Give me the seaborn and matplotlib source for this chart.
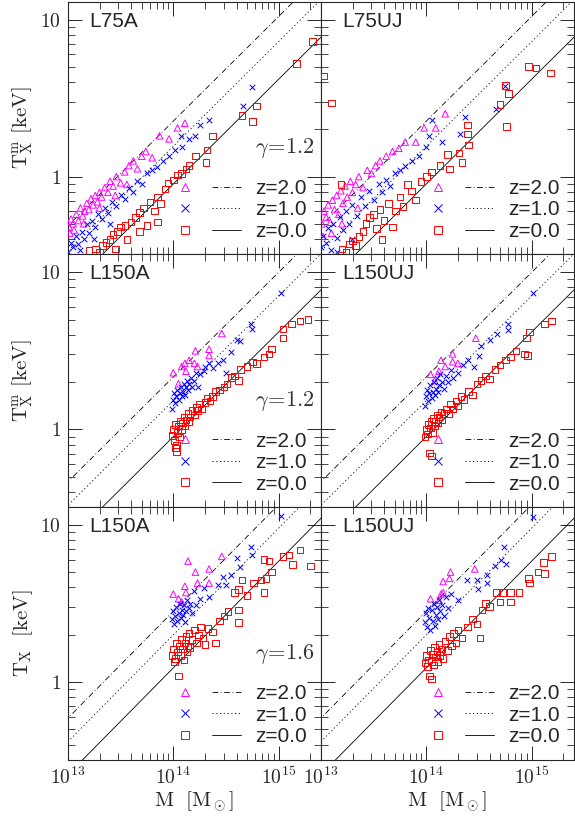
import numpy as np
import pandas as pd
import seaborn as sns
import matplotlib
matplotlib.use("Agg")
import matplotlib.pyplot as plt
from matplotlib.lines import Line2D
from matplotlib.legend_handler import HandlerTuple
from matplotlib.ticker import FuncFormatter, NullFormatter

sns.set_theme(style="ticks")
plt.rcParams['font.family'] = ['Liberation Sans', 'DejaVu Sans']
plt.rcParams['mathtext.fontset'] = 'cm'

# ---- data: (log10 M, log10 T) pairs ----
L75A_z2 = [(13.01,-0.32),(13.03,-0.27),(13.05,-0.30),(13.08,-0.24),(13.10,-0.28),(13.12,-0.20),(13.14,-0.25),(13.16,-0.22),(13.18,-0.17),(13.20,-0.21),(13.22,-0.14),(13.24,-0.18),(13.26,-0.12),(13.28,-0.16),(13.30,-0.10),(13.32,-0.13),(13.35,-0.07),(13.38,-0.10),(13.40,-0.03),(13.43,-0.06),(13.46,0.00),(13.50,-0.04),(13.54,0.03),(13.58,0.07),(13.62,0.10),(13.66,0.05),(13.70,0.13),(13.74,0.16),(13.80,0.12),(13.87,0.26),(13.96,0.24),(14.04,0.31),(14.11,0.34),(13.02,-0.36),(13.06,-0.34),(13.15,-0.30),(13.30,-0.20),(13.45,-0.12),(13.56,-0.05)]
L75A_z1 = [(13.00,-0.48),(13.03,-0.42),(13.05,-0.45),(13.08,-0.38),(13.10,-0.43),(13.13,-0.35),(13.15,-0.40),(13.18,-0.30),(13.20,-0.36),(13.23,-0.28),(13.26,-0.32),(13.29,-0.24),(13.32,-0.27),(13.35,-0.20),(13.38,-0.23),(13.42,-0.16),(13.46,-0.19),(13.50,-0.12),(13.54,-0.14),(13.58,-0.07),(13.62,-0.10),(13.66,-0.03),(13.70,-0.05),(13.75,0.02),(13.80,0.04),(13.85,0.06),(13.90,0.10),(13.96,0.13),(14.02,0.17),(14.08,0.19),(14.07,0.26),(14.15,0.24),(14.21,0.26),(14.25,0.33),(14.34,0.36),(14.66,0.45),(14.75,0.57),(13.12,-0.47),(13.25,-0.40),(13.40,-0.30)]
L75A_z0 = [(13.26,-0.46),(13.30,-0.48),(13.33,-0.44),(13.36,-0.42),(13.40,-0.40),(13.43,-0.37),(13.47,-0.35),(13.50,-0.32),(13.54,-0.31),(13.56,-0.40),(13.60,-0.29),(13.64,-0.26),(13.68,-0.23),(13.68,-0.35),(13.72,-0.20),(13.75,-0.31),(13.78,-0.16),(13.82,-0.22),(13.85,-0.13),(13.88,-0.17),(13.85,-0.29),(13.92,-0.08),(13.95,-0.04),(14.00,-0.02),(14.04,0.01),(14.08,0.02),(14.12,0.05),(14.15,0.07),(14.21,0.13),(14.31,0.09),(14.32,0.17),(14.37,0.26),(14.65,0.39),(14.75,0.35),(14.79,0.45),(15.17,0.72),(15.32,0.86),(13.20,-0.47),(13.45,-0.46)]

L75UJ_z2 = [(13.01,-0.30),(13.03,-0.22),(13.05,-0.26),(13.07,-0.18),(13.09,-0.29),(13.11,-0.15),(13.13,-0.21),(13.15,-0.12),(13.17,-0.24),(13.19,-0.09),(13.21,-0.17),(13.23,-0.06),(13.25,-0.13),(13.28,-0.03),(13.30,-0.10),(13.33,-0.05),(13.36,0.00),(13.40,-0.07),(13.44,0.04),(13.48,0.02),(13.52,0.07),(13.56,0.10),(13.62,0.13),(13.68,0.16),(13.74,0.18),(13.80,0.22),(13.90,0.22),(13.98,0.31),(14.09,0.31),(14.18,0.40),(13.02,-0.38),(13.10,-0.36),(13.20,-0.30),(13.35,-0.20)]
L75UJ_z1 = [(13.00,-0.45),(13.02,-0.38),(13.05,-0.42),(13.07,-0.33),(13.10,-0.47),(13.12,-0.30),(13.15,-0.39),(13.18,-0.26),(13.21,-0.34),(13.24,-0.22),(13.27,-0.30),(13.30,-0.18),(13.34,-0.25),(13.38,-0.13),(13.42,-0.19),(13.46,-0.09),(13.50,-0.15),(13.55,-0.05),(13.58,-0.10),(13.62,-0.02),(13.66,-0.06),(13.70,0.02),(13.75,0.04),(13.80,0.07),(13.86,0.10),(13.93,0.13),(14.00,0.19),(14.03,0.26),(14.05,0.36),(14.15,0.22),(14.32,0.27),(14.37,0.38),(14.66,0.43),(14.75,0.58),(13.15,-0.48),(13.30,-0.40)]
L75UJ_z0 = [(13.03,0.64),(13.10,0.47),(13.19,-0.05),(13.20,-0.46),(13.24,-0.48),(13.27,-0.43),(13.30,-0.41),(13.33,-0.44),(13.36,-0.38),(13.40,-0.35),(13.43,-0.30),(13.46,-0.26),(13.50,-0.24),(13.53,-0.33),(13.56,-0.21),(13.60,-0.28),(13.64,-0.17),(13.68,-0.32),(13.71,-0.22),(13.75,-0.13),(13.78,-0.19),(13.82,-0.05),(13.86,-0.09),(13.90,-0.15),(13.95,-0.03),(14.00,0.00),(14.05,0.03),(14.13,0.07),(14.20,0.14),(14.22,0.05),(14.31,0.15),(14.34,0.09),(14.40,0.20),(14.39,0.27),(14.39,0.33),(14.70,0.46),(14.75,0.58),(14.76,0.32),(14.78,0.53),(14.97,0.70),(15.04,0.69),(15.18,0.66),(13.58,-0.40)]

L150A_z2 = [(14.00,0.36),(14.05,0.29),(14.08,0.40),(14.11,0.42),(14.12,0.37),(14.15,0.44),(14.20,0.42),(14.21,0.50),(14.23,0.40),(14.34,0.47),(14.34,0.51),(14.46,0.61)]
L150A_z1 = [(13.99,0.13),(14.00,0.19),(14.01,0.23),(14.02,0.17),(14.03,0.21),(14.04,0.25),(14.05,0.19),(14.06,0.23),(14.07,0.27),(14.08,0.21),(14.09,0.24),(14.10,0.29),(14.11,0.22),(14.12,0.27),(14.13,0.31),(14.14,0.25),(14.15,0.29),(14.17,0.33),(14.18,0.27),(14.20,0.31),(14.22,0.36),(14.23,0.27),(14.25,0.35),(14.29,0.37),(14.30,0.40),(14.34,0.42),(14.38,0.39),(14.42,0.42),(14.47,0.44),(14.50,0.36),(14.55,0.49),(14.60,0.57),(14.63,0.56),(14.74,0.67),(14.75,0.64),(15.02,0.87)]
L150A_z0 = [(13.99,-0.04),(14.00,0.00),(14.01,-0.07),(14.02,0.03),(14.03,-0.10),(14.04,-0.02),(14.05,0.02),(14.06,-0.05),(14.07,0.05),(14.08,0.00),(14.09,0.04),(14.10,0.08),(14.11,0.02),(14.12,0.06),(14.14,0.10),(14.15,0.05),(14.16,0.08),(14.18,0.12),(14.20,0.09),(14.22,0.14),(14.23,0.12),(14.25,0.16),(14.27,0.13),(14.30,0.17),(14.32,0.20),(14.35,0.18),(14.37,0.21),(14.40,0.24),(14.44,0.25),(14.48,0.27),(14.51,0.29),(14.55,0.33),(14.58,0.34),(14.62,0.31),(14.64,0.38),(14.70,0.40),(14.75,0.43),(14.79,0.42),(14.86,0.46),(14.91,0.48),(14.93,0.51),(15.04,0.58),(15.04,0.64),(15.12,0.67),(15.20,0.69),(15.28,0.70),(14.03,-0.14),(14.02,-0.12)]

L150UJ_z2 = [(14.04,0.35),(14.08,0.31),(14.12,0.37),(14.14,0.44),(14.18,0.40),(14.25,0.48),(14.25,0.43),(14.30,0.42),(14.47,0.58)]
L150UJ_z1 = [(13.99,0.15),(14.00,0.21),(14.01,0.25),(14.02,0.18),(14.03,0.23),(14.04,0.28),(14.05,0.20),(14.06,0.24),(14.07,0.30),(14.08,0.22),(14.09,0.26),(14.10,0.33),(14.11,0.24),(14.12,0.28),(14.13,0.35),(14.15,0.30),(14.17,0.26),(14.19,0.34),(14.21,0.30),(14.23,0.38),(14.25,0.33),(14.30,0.36),(14.35,0.41),(14.40,0.44),(14.45,0.40),(14.50,0.47),(14.52,0.53),(14.60,0.57),(14.67,0.61),(14.78,0.63),(14.78,0.67),(15.01,0.87)]
L150UJ_z0 = [(13.99,-0.05),(14.00,0.00),(14.01,-0.03),(14.02,0.03),(14.03,-0.15),(14.05,-0.17),(14.04,0.01),(14.05,0.05),(14.06,-0.02),(14.07,0.07),(14.08,0.02),(14.09,0.05),(14.10,0.09),(14.11,0.04),(14.12,0.08),(14.14,0.11),(14.15,0.06),(14.17,0.10),(14.19,0.13),(14.21,0.10),(14.23,0.16),(14.25,0.13),(14.28,0.18),(14.30,0.15),(14.33,0.21),(14.36,0.19),(14.40,0.24),(14.44,0.22),(14.48,0.29),(14.52,0.31),(14.56,0.34),(14.60,0.32),(14.65,0.38),(14.70,0.41),(14.75,0.44),(14.80,0.46),(14.85,0.50),(14.93,0.48),(14.96,0.47),(14.95,0.58),(14.98,0.62),(15.12,0.67),(15.19,0.69)]

L150A6_z2 = [(14.00,0.56),(14.05,0.53),(14.08,0.51),(14.11,0.61),(14.12,0.57),(14.14,0.77),(14.21,0.70),(14.23,0.63),(14.34,0.72),(14.34,0.63),(14.46,0.80)]
L150A6_z1 = [(13.99,0.40),(14.00,0.45),(14.01,0.37),(14.02,0.42),(14.03,0.48),(14.04,0.39),(14.05,0.44),(14.06,0.50),(14.07,0.41),(14.08,0.46),(14.09,0.43),(14.10,0.49),(14.11,0.38),(14.12,0.45),(14.13,0.52),(14.15,0.47),(14.16,0.50),(14.18,0.44),(14.20,0.58),(14.22,0.49),(14.25,0.53),(14.29,0.60),(14.34,0.54),(14.42,0.62),(14.47,0.67),(14.50,0.62),(14.55,0.68),(14.60,0.79),(14.63,0.73),(14.74,0.86),(14.75,0.81),(15.02,1.06)]
L150A6_z0 = [(13.99,0.17),(14.00,0.21),(14.01,0.13),(14.02,0.15),(14.03,0.25),(14.04,0.19),(14.05,0.04),(14.06,0.23),(14.07,0.17),(14.08,0.27),(14.09,0.21),(14.10,0.14),(14.11,0.25),(14.12,0.29),(14.13,0.19),(14.14,0.23),(14.15,0.31),(14.16,0.22),(14.18,0.27),(14.20,0.33),(14.22,0.25),(14.24,0.30),(14.26,0.35),(14.28,0.28),(14.30,0.24),(14.33,0.34),(14.37,0.32),(14.40,0.25),(14.44,0.39),(14.48,0.42),(14.52,0.45),(14.58,0.57),(14.62,0.59),(14.62,0.46),(14.62,0.38),(14.65,0.65),(14.70,0.55),(14.76,0.63),(14.83,0.65),(14.86,0.57),(14.86,0.78),(14.88,0.66),(14.91,0.77),(14.93,0.70),(15.04,0.80),(15.10,0.81),(15.13,0.75),(15.20,0.84),(15.30,0.74)]

L150UJ6_z2 = [(14.04,0.53),(14.12,0.52),(14.14,0.56),(14.16,0.57),(14.16,0.64),(14.22,0.66),(14.23,0.70),(14.46,0.72)]
L150UJ6_z1 = [(13.99,0.38),(14.00,0.44),(14.01,0.35),(14.02,0.47),(14.03,0.41),(14.04,0.33),(14.05,0.46),(14.06,0.39),(14.07,0.50),(14.08,0.36),(14.09,0.43),(14.10,0.48),(14.11,0.40),(14.12,0.52),(14.13,0.45),(14.15,0.49),(14.17,0.42),(14.19,0.54),(14.21,0.47),(14.23,0.56),(14.30,0.52),(14.39,0.65),(14.48,0.65),(14.49,0.59),(14.58,0.63),(14.58,0.68),(14.65,0.74),(14.71,0.78),(14.76,0.75),(14.74,0.86),(15.01,1.05)]
L150UJ6_z0 = [(13.99,0.12),(14.00,0.17),(14.01,0.10),(14.02,0.14),(14.03,0.04),(14.05,0.02),(14.04,0.20),(14.05,0.13),(14.06,0.18),(14.07,0.11),(14.08,0.22),(14.09,0.16),(14.10,0.19),(14.11,0.13),(14.12,0.24),(14.13,0.17),(14.15,0.21),(14.16,0.15),(14.18,0.26),(14.20,0.20),(14.22,0.29),(14.24,0.23),(14.26,0.31),(14.28,0.25),(14.30,0.33),(14.34,0.28),(14.39,0.35),(14.44,0.40),(14.48,0.37),(14.51,0.28),(14.53,0.46),(14.56,0.50),(14.60,0.48),(14.66,0.57),(14.70,0.51),(14.73,0.57),(14.80,0.57),(14.80,0.51),(14.88,0.57),(14.97,0.66),(14.98,0.63),(15.06,0.70),(15.11,0.76),(15.12,0.69),(15.19,0.80)]

panel_names = ["L75A", "L75UJ", "L150A", "L150UJ", "L150A", "L150UJ"]
panel_data = [
    (L75A_z2, L75A_z1, L75A_z0), (L75UJ_z2, L75UJ_z1, L75UJ_z0),
    (L150A_z2, L150A_z1, L150A_z0), (L150UJ_z2, L150UJ_z1, L150UJ_z0),
    (L150A6_z2, L150A6_z1, L150A6_z0), (L150UJ6_z2, L150UJ6_z1, L150UJ6_z0),
]
gammas = ["1.2", "1.2", "1.6"]
ylabels = [r'$\mathrm{T_X^m\ [keV]}$', r'$\mathrm{T_X^m\ [keV]}$', r'$\mathrm{T_X\ \ [keV]}$']
# scaling relations per row: log10 T at M=1e15 for z=2,1,0 and slope
rel_norm = [(1.02, 0.86, 0.62), (1.00, 0.85, 0.62), (1.13, 0.98, 0.77)]
rel_slope = [0.667, 0.667, 0.68]
z_labels = ["z=2.0", "z=1.0", "z=0.0"]

colors = ["#ff00ff", "#0000ff", "#ff0000"]
markers = ["^", "x", "s"]
lstyles = [(0, (7, 3, 1, 3)), (0, (1.5, 3)), "-"]

fig, axes = plt.subplots(3, 2, figsize=(5.75, 8.17), dpi=100, sharex=True, sharey=True)
fig.subplots_adjust(left=0.118, right=0.998, top=0.998, bottom=0.07, wspace=0, hspace=0)

xline = np.array([12.5, 16.0])
for i, ax in enumerate(axes.flat):
    row, col = divmod(i, 2)
    handles = []
    for k in range(3):
        pts = np.array(panel_data[i][k])
        df = pd.DataFrame({"M": 10**pts[:, 0], "T": 10**pts[:, 1]})
        if markers[k] == "x":
            sns.scatterplot(data=df, x="M", y="T", ax=ax, marker="x", s=16,
                            color=colors[k], linewidth=0.7, zorder=3)
        else:
            sns.scatterplot(data=df, x="M", y="T", ax=ax, marker=markers[k], s=22,
                            facecolors="none", edgecolors=colors[k], linewidths=0.7,
                            zorder=3)
        yl = rel_norm[row][k] + rel_slope[row] * (xline - 15)
        sns.lineplot(x=10**xline, y=10**yl, ax=ax, color="black", lw=0.6,
                     linestyle=lstyles[k], zorder=2)
        mh = Line2D([], [], marker=markers[k], linestyle="none", color=colors[k],
                    markeredgecolor=colors[k], markerfacecolor="none",
                    markersize=5.5, markeredgewidth=0.7)
        lh = Line2D([], [], color="black", lw=0.6, linestyle=lstyles[k])
        handles.append((mh, lh))
    ax.set_xscale("log"); ax.set_yscale("log")
    ax.set_xlim(1e13, 10**15.4)
    ax.set_ylim(0.32, 13)
    ax.legend(handles, z_labels, handler_map={tuple: HandlerTuple(ndivide=None, pad=0.6)},
              handlelength=3.4, loc="lower right", frameon=False, fontsize=15,
              labelspacing=0.12, handletextpad=0.7, borderaxespad=0.25)
    ax.text(0.085, 0.96, panel_names[i], transform=ax.transAxes, fontsize=15,
            va="top", ha="left")
    if col == 0:
        ax.text(0.975, 0.42, r'$\gamma\!=\!%s$' % gammas[row], transform=ax.transAxes,
                fontsize=16, ha="right", va="center", color="#333333")
        ax.set_ylabel(ylabels[row], fontsize=15)
    else:
        ax.set_ylabel("")
    ax.set_xlabel(r'$\mathrm{M\ \ [M_\odot]}$' if row == 2 else "", fontsize=15, labelpad=1)
    ax.tick_params(which="both", direction="in", top=True, right=True, labelsize=14)
    ax.tick_params(which="major", length=10, width=0.7, pad=5)
    ax.tick_params(which="minor", length=5, width=0.6)
    ax.yaxis.set_major_formatter(FuncFormatter(lambda v, p: r'$%g$' % v))
    ax.yaxis.set_minor_formatter(NullFormatter())
    ax.xaxis.set_major_formatter(FuncFormatter(lambda v, p: r'$10^{%d}$' % round(np.log10(v))))
    ax.xaxis.set_minor_formatter(NullFormatter())
    for s in ax.spines.values():
        s.set_linewidth(0.8)

fig.savefig("out.png", dpi=100)
